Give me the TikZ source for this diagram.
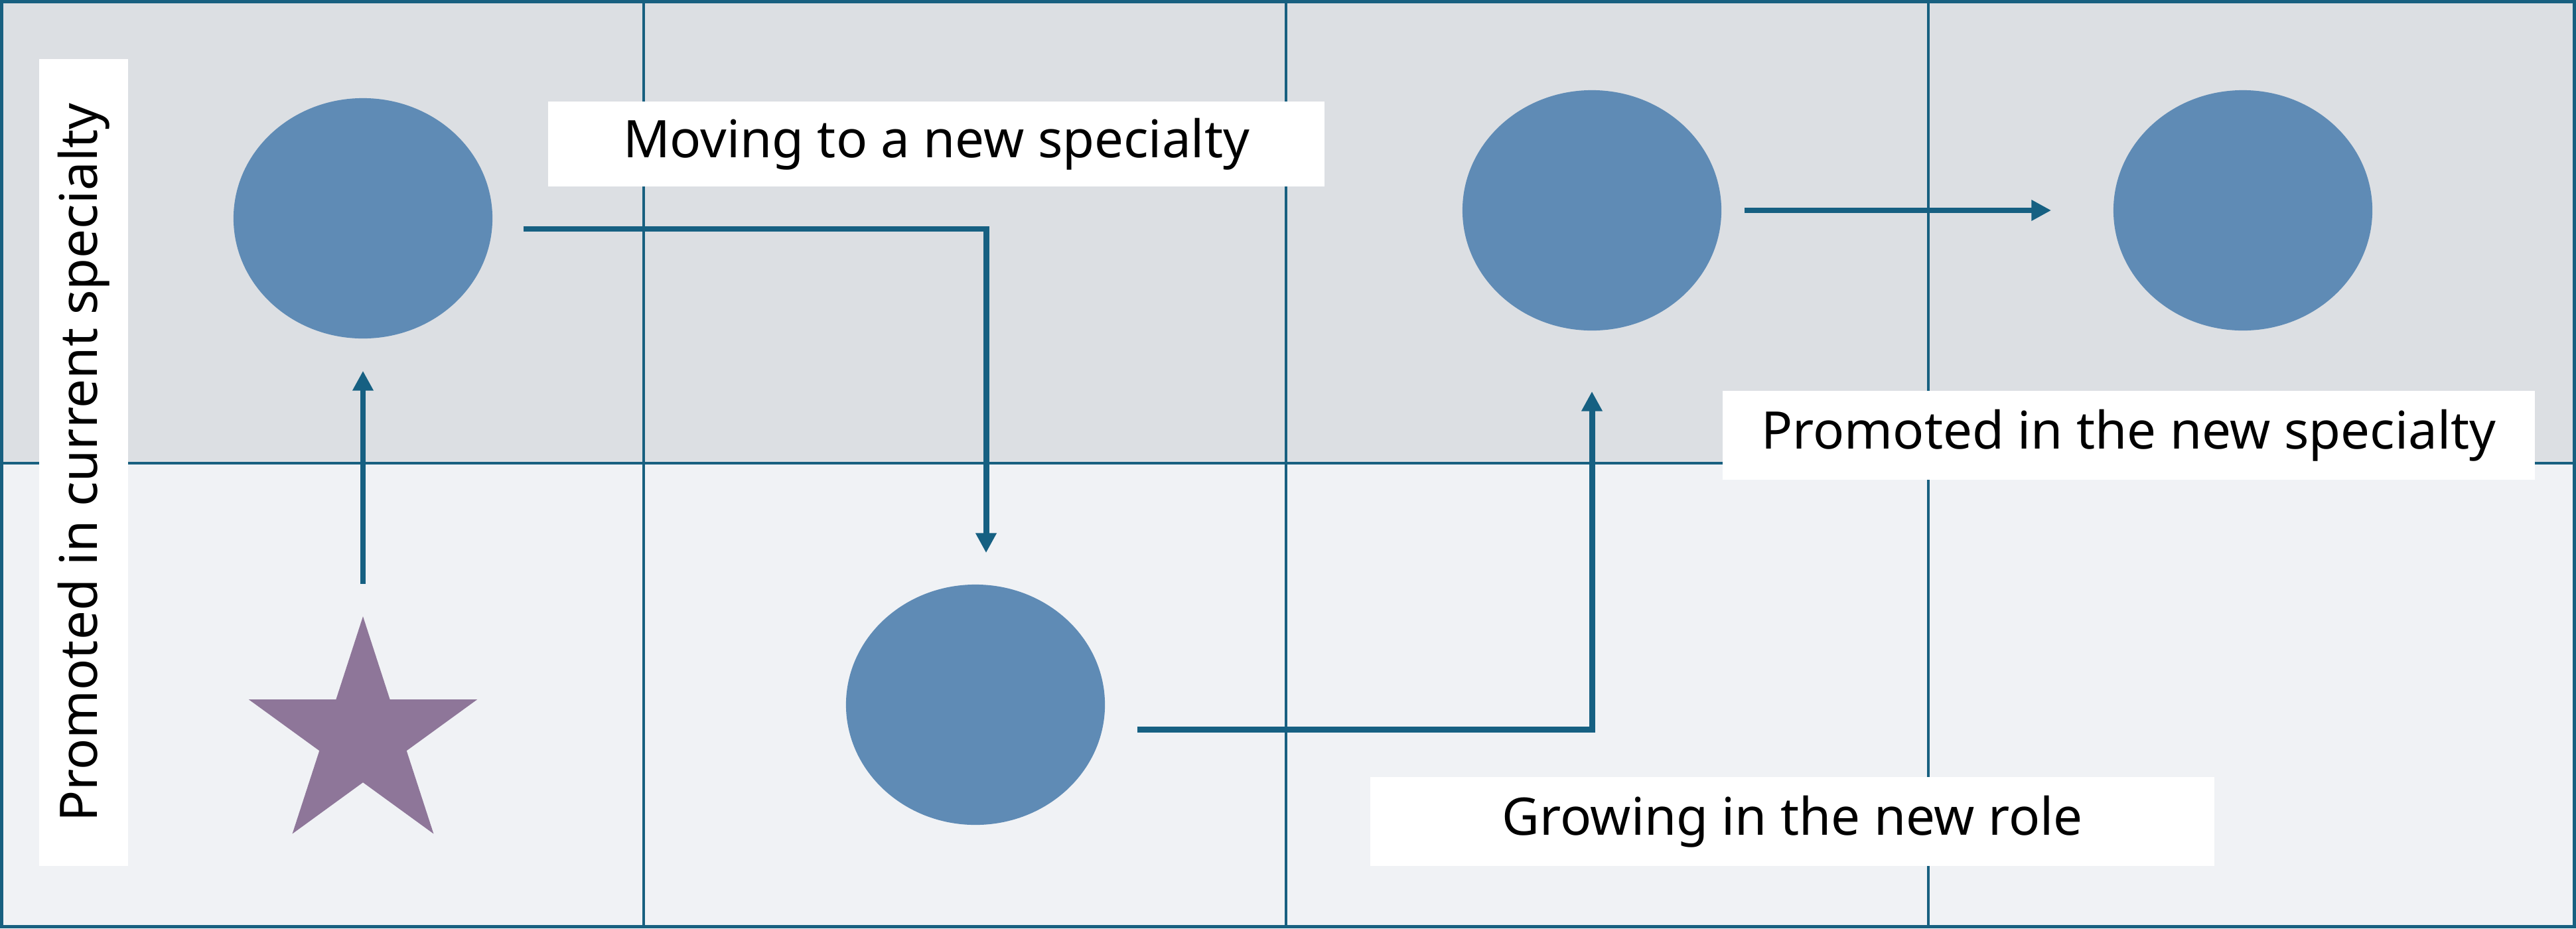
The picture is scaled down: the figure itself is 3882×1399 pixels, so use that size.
\documentclass[tikz,border=0pt]{standalone}
\usepackage{fontspec}
\setmainfont{Noto Sans}
\usetikzlibrary{arrows.meta,positioning,shapes.geometric}
\definecolor{bandtop}{RGB}{220,223,227}
\definecolor{bandbot}{RGB}{240,242,245}
\definecolor{gridcol}{RGB}{24,96,128}
\definecolor{linkcol}{RGB}{22,96,130}
\definecolor{bubblecol}{RGB}{95,139,181}
\definecolor{starcol}{RGB}{142,118,153}

\begin{document}
\begin{tikzpicture}[x=0.01cm, y=-0.01cm,
  bubble/.style={ellipse, fill=bubblecol, minimum width=3.9cm, minimum height=3.62cm, inner sep=0pt},
  lbl/.style={fill=white, inner sep=0pt, font=\fontsize{22.2}{26}\selectfont},
  link/.style={draw=linkcol, line width=2.55pt, -{Triangle[length=8.5pt,width=8.5pt]}}]
  \useasboundingbox (0,0) rectangle (3882,1399);
  % background bands and grid
  \fill[bandtop] (0,0) rectangle (3882,698);
  \fill[bandbot] (0,698) rectangle (3882,1399);
  \foreach \gx in {970,1938,2906}
    \draw[gridcol, line width=1.14pt] (\gx,0) -- (\gx,1399);
  \draw[gridcol, line width=1.14pt] (0,698) -- (3882,698);
  \draw[gridcol, line width=1.42pt] (2.5,2.5) rectangle (3879.5,1396.5);
  % labels
  \node[lbl, rotate=90, minimum width=12.16cm, minimum height=1.34cm] (side) at (126,697) {Promoted in current specialty};
  \node[lbl, minimum width=11.69cm, minimum height=1.27cm] (move) at (1411,217) {Moving to a new specialty};
  \node[lbl, minimum width=12.23cm, minimum height=1.34cm] (promo) at (3208,656) {Promoted in the new specialty};
  \node[lbl, minimum width=12.72cm, minimum height=1.33cm] (grow) at (2701,1238) {Growing in the new role};
  % positions
  \node[star, star points=5, star point ratio=2.62, fill=starcol, minimum size=3.62cm, inner sep=0pt] (st) at (547,1110) {};
  \node[bubble] (c1) at (547,329) {};
  \node[bubble] (c2) at (1470,1062) {};
  \node[bubble] (c3) at (2399,317) {};
  \node[bubble] (c4) at (3380,317) {};
  % moves
  \draw[link, shorten <=0.47cm, shorten >=0.48cm] (st.north) -- (c1.south);
  \draw[link] ([shift={(46,16)}]c1.east) -| ([shift={(16,-47)}]c2.north);
  \draw[link] ([shift={(48,37)}]c2.east) -| ([shift={(0,91)}]c3.south);
  \draw[link, shorten <=0.34cm, shorten >=0.93cm] (c3.east) -- (c4.west);
\end{tikzpicture}
\end{document}
